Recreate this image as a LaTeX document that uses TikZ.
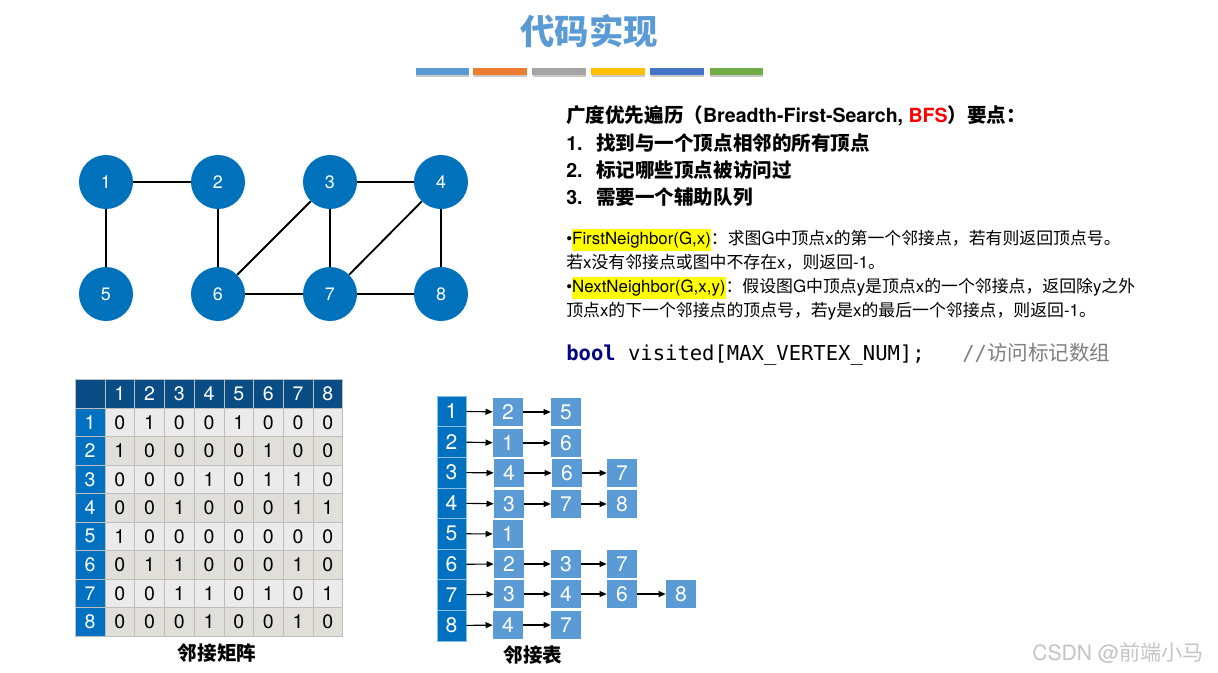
\documentclass[tikz,border=0pt]{standalone}
\usepackage{fontspec}
\setmainfont{TeX Gyre Heros}
\setmonofont{DejaVu Sans Mono}
\newfontfamily\cjk{Noto Sans CJK SC}
\usetikzlibrary{arrows.meta,shadows}
\newcommand{\zh}[1]{{\cjk #1}}
\newcommand{\hilite}[1]{{\setlength{\fboxsep}{0pt}\colorbox{hiyellow}{\strut #1}}}

\definecolor{titleblue}{HTML}{5B9BD5}
\definecolor{barA}{HTML}{5B9BD5}
\definecolor{barB}{HTML}{ED7D31}
\definecolor{barC}{HTML}{A5A5A5}
\definecolor{barD}{HTML}{FFC000}
\definecolor{barE}{HTML}{4472C4}
\definecolor{barF}{HTML}{70AD47}
\definecolor{nodeblue}{HTML}{0072BC}
\definecolor{headnavy}{HTML}{0A4D85}
\definecolor{headblue}{HTML}{0070C0}
\definecolor{boxblue}{HTML}{5B9BD5}
\definecolor{rowlight}{HTML}{EBEBEB}
\definecolor{rowdark}{HTML}{E0DFDA}
\definecolor{cellline}{HTML}{BEBEBE}
\definecolor{hiyellow}{HTML}{FFFF00}
\definecolor{bfsred}{HTML}{FF0000}
\definecolor{codenavy}{HTML}{000080}
\definecolor{commentgray}{HTML}{808080}
\definecolor{markgray}{HTML}{C4C4C4}

\tikzset{
  colorbar/.style={minimum width=1.325cm, minimum height=0.175cm, inner sep=0pt,
    drop shadow={shadow xshift=0.3pt, shadow yshift=-1.2pt, fill=black!35, opacity=0.6}},
  vertex/.style={circle, fill=nodeblue, text=white, minimum size=1.35cm, inner sep=0pt,
    font=\fontsize{12.8}{14}\selectfont},
  edge/.style={line width=1.3pt},
  head/.style={anchor=base west, inner sep=0pt, font=\bfseries\fontsize{13.9}{16}\selectfont},
  desc/.style={anchor=base west, inner sep=0pt, font=\fontsize{12}{15.5}\selectfont},
  code/.style={anchor=base west, inner sep=0pt, font=\ttfamily\fontsize{14.6}{17}\selectfont},
  cell/.style={minimum width=0.7425cm, minimum height=0.7125cm, inner sep=0pt,
    draw=cellline, line width=0.4pt, font=\fontsize{13.9}{16}\selectfont},
  oddrow/.style={cell, fill=rowlight},
  evenrow/.style={cell, fill=rowdark},
  topleft/.style={cell, fill=headnavy},
  colhead/.style={cell, fill=headnavy, text=white},
  rowhead/.style={cell, fill=headblue, text=white},
  listhead/.style={minimum width=0.725cm, minimum height=0.765cm, inner sep=0pt,
    fill=headblue, draw=white!55!headblue, line width=0.4pt, text=white,
    font=\fontsize{15}{17}\selectfont},
  listbox/.style={minimum width=0.75cm, minimum height=0.7cm, inner sep=0pt,
    fill=boxblue, text=white, font=\fontsize{15}{17}\selectfont},
  link/.style={-{Triangle[length=1.8mm,width=1.5mm]}, line width=0.8pt},
  caption/.style={anchor=base, inner sep=0pt, font=\cjk\bfseries\fontsize{13.9}{16}\selectfont}
}

\begin{document}
\begin{tikzpicture}[x={(0.025cm,0cm)},y={(0cm,-0.025cm)}]
\path[fill=white] (0,0) rectangle (1218,672);
\useasboundingbox (0,0) rectangle (1218,672);

% title and colour bars
\node[text=titleblue, font=\cjk\bfseries\fontsize{24.5}{28}\selectfont] (title) at (589,31) {代码实现};
\node[colorbar, fill=barA] (bar1) at (442.5,71.5) {};
\node[colorbar, fill=barB] (bar2) at (500,71.5) {};
\node[colorbar, fill=barC] (bar3) at (559,71.5) {};
\node[colorbar, fill=barD] (bar4) at (618,71.5) {};
\node[colorbar, fill=barE] (bar5) at (677,71.5) {};
\node[colorbar, fill=barF] (bar6) at (736.5,71.5) {};

% graph
\node[vertex] (v1) at (106,182) {1};
\node[vertex] (v2) at (218,182) {2};
\node[vertex] (v3) at (330,182) {3};
\node[vertex] (v4) at (441,182) {4};
\node[vertex] (v5) at (106,294) {5};
\node[vertex] (v6) at (218,294) {6};
\node[vertex] (v7) at (330,294) {7};
\node[vertex] (v8) at (441,294) {8};
\draw[edge] (v1) -- (v2);
\draw[edge] (v1) -- (v5);
\draw[edge] (v2) -- (v6);
\draw[edge] (v3) -- (v4);
\draw[edge] (v3) -- (v6);
\draw[edge] (v3) -- (v7);
\draw[edge] (v4) -- (v7);
\draw[edge] (v4) -- (v8);
\draw[edge] (v6) -- (v7);
\draw[edge] (v7) -- (v8);

% text on the right
\node[head] (bfs) at (566,122.4) {\zh{广度优先遍历（}Breadth-First-Search, {\color{bfsred}BFS}\zh{）要点：}};
\node[head] (pt1) at (566,150.4) {\makebox[21.3pt][l]{1.}\zh{找到与一个顶点相邻的所有顶点}};
\node[head] (pt2) at (566,177.4) {\makebox[21.3pt][l]{2.}\zh{标记哪些顶点被访问过}};
\node[head] (pt3) at (566,204.4) {\makebox[21.3pt][l]{3.}\zh{需要一个辅助队列}};

\node[desc] (fn1) at (566,244.5) {\textbullet\hilite{FirstNeighbor(G,x)}\zh{：求图}G\zh{中顶点}x\zh{的第一个邻接点，若有则返回顶点号。}};
\node[desc] (fn2) at (566,268.5) {\zh{若}x\zh{没有邻接点或图中不存在}x\zh{，则返回}-1\zh{。}};
\node[desc] (fn3) at (566,292.5) {\textbullet\hilite{NextNeighbor(G,x,y)}\zh{：假设图}G\zh{中顶点}y\zh{是顶点}x\zh{的一个邻接点，返回除}y\zh{之外}};
\node[desc] (fn4) at (566,316.5) {\zh{顶点}x\zh{的下一个邻接点的顶点号，若}y\zh{是}x\zh{的最后一个邻接点，则返回}-1\zh{。}};

\node[code] (decl) at (566,360) {{\color{codenavy}\bfseries bool} visited[MAX\_VERTEX\_NUM];};
\node[code, text=commentgray] (note) at (962,360) {//\zh{访问标记数组}};

% adjacency matrix
\begin{scope}[shift={(105,408)},x={(0cm,-0.7125cm)},y={(0.7425cm,0cm)}]
\node[topleft] (m-0-0) at (-0.5,-0.5) {};
\node[colhead] (m-0-1) at (-0.5,0.5) {1};
\node[colhead] (m-0-2) at (-0.5,1.5) {2};
\node[colhead] (m-0-3) at (-0.5,2.5) {3};
\node[colhead] (m-0-4) at (-0.5,3.5) {4};
\node[colhead] (m-0-5) at (-0.5,4.5) {5};
\node[colhead] (m-0-6) at (-0.5,5.5) {6};
\node[colhead] (m-0-7) at (-0.5,6.5) {7};
\node[colhead] (m-0-8) at (-0.5,7.5) {8};

\node[rowhead] (m-1-0) at (0.5,-0.5) {1};
\node[rowhead] (m-2-0) at (1.5,-0.5) {2};
\node[rowhead] (m-3-0) at (2.5,-0.5) {3};
\node[rowhead] (m-4-0) at (3.5,-0.5) {4};
\node[rowhead] (m-5-0) at (4.5,-0.5) {5};
\node[rowhead] (m-6-0) at (5.5,-0.5) {6};
\node[rowhead] (m-7-0) at (6.5,-0.5) {7};
\node[rowhead] (m-8-0) at (7.5,-0.5) {8};

\node[oddrow] (m-1-1) at (0.5,0.5) {0};
\node[oddrow] (m-1-2) at (0.5,1.5) {1};
\node[oddrow] (m-1-3) at (0.5,2.5) {0};
\node[oddrow] (m-1-4) at (0.5,3.5) {0};
\node[oddrow] (m-1-5) at (0.5,4.5) {1};
\node[oddrow] (m-1-6) at (0.5,5.5) {0};
\node[oddrow] (m-1-7) at (0.5,6.5) {0};
\node[oddrow] (m-1-8) at (0.5,7.5) {0};

\node[evenrow] (m-2-1) at (1.5,0.5) {1};
\node[evenrow] (m-2-2) at (1.5,1.5) {0};
\node[evenrow] (m-2-3) at (1.5,2.5) {0};
\node[evenrow] (m-2-4) at (1.5,3.5) {0};
\node[evenrow] (m-2-5) at (1.5,4.5) {0};
\node[evenrow] (m-2-6) at (1.5,5.5) {1};
\node[evenrow] (m-2-7) at (1.5,6.5) {0};
\node[evenrow] (m-2-8) at (1.5,7.5) {0};

\node[oddrow] (m-3-1) at (2.5,0.5) {0};
\node[oddrow] (m-3-2) at (2.5,1.5) {0};
\node[oddrow] (m-3-3) at (2.5,2.5) {0};
\node[oddrow] (m-3-4) at (2.5,3.5) {1};
\node[oddrow] (m-3-5) at (2.5,4.5) {0};
\node[oddrow] (m-3-6) at (2.5,5.5) {1};
\node[oddrow] (m-3-7) at (2.5,6.5) {1};
\node[oddrow] (m-3-8) at (2.5,7.5) {0};

\node[evenrow] (m-4-1) at (3.5,0.5) {0};
\node[evenrow] (m-4-2) at (3.5,1.5) {0};
\node[evenrow] (m-4-3) at (3.5,2.5) {1};
\node[evenrow] (m-4-4) at (3.5,3.5) {0};
\node[evenrow] (m-4-5) at (3.5,4.5) {0};
\node[evenrow] (m-4-6) at (3.5,5.5) {0};
\node[evenrow] (m-4-7) at (3.5,6.5) {1};
\node[evenrow] (m-4-8) at (3.5,7.5) {1};

\node[oddrow] (m-5-1) at (4.5,0.5) {1};
\node[oddrow] (m-5-2) at (4.5,1.5) {0};
\node[oddrow] (m-5-3) at (4.5,2.5) {0};
\node[oddrow] (m-5-4) at (4.5,3.5) {0};
\node[oddrow] (m-5-5) at (4.5,4.5) {0};
\node[oddrow] (m-5-6) at (4.5,5.5) {0};
\node[oddrow] (m-5-7) at (4.5,6.5) {0};
\node[oddrow] (m-5-8) at (4.5,7.5) {0};

\node[evenrow] (m-6-1) at (5.5,0.5) {0};
\node[evenrow] (m-6-2) at (5.5,1.5) {1};
\node[evenrow] (m-6-3) at (5.5,2.5) {1};
\node[evenrow] (m-6-4) at (5.5,3.5) {0};
\node[evenrow] (m-6-5) at (5.5,4.5) {0};
\node[evenrow] (m-6-6) at (5.5,5.5) {0};
\node[evenrow] (m-6-7) at (5.5,6.5) {1};
\node[evenrow] (m-6-8) at (5.5,7.5) {0};

\node[oddrow] (m-7-1) at (6.5,0.5) {0};
\node[oddrow] (m-7-2) at (6.5,1.5) {0};
\node[oddrow] (m-7-3) at (6.5,2.5) {1};
\node[oddrow] (m-7-4) at (6.5,3.5) {1};
\node[oddrow] (m-7-5) at (6.5,4.5) {0};
\node[oddrow] (m-7-6) at (6.5,5.5) {1};
\node[oddrow] (m-7-7) at (6.5,6.5) {0};
\node[oddrow] (m-7-8) at (6.5,7.5) {1};

\node[evenrow] (m-8-1) at (7.5,0.5) {0};
\node[evenrow] (m-8-2) at (7.5,1.5) {0};
\node[evenrow] (m-8-3) at (7.5,2.5) {0};
\node[evenrow] (m-8-4) at (7.5,3.5) {1};
\node[evenrow] (m-8-5) at (7.5,4.5) {0};
\node[evenrow] (m-8-6) at (7.5,5.5) {0};
\node[evenrow] (m-8-7) at (7.5,6.5) {1};
\node[evenrow] (m-8-8) at (7.5,7.5) {0};
\end{scope}
\node[caption] (matcap) at (217,660) {邻接矩阵};

% adjacency list
\node[listhead] (h1) at (451.5,411.3) {1};
\node[listhead] (h2) at (451.5,441.9) {2};
\node[listhead] (h3) at (451.5,472.5) {3};
\node[listhead] (h4) at (451.5,503.1) {4};
\node[listhead] (h5) at (451.5,533.7) {5};
\node[listhead] (h6) at (451.5,564.3) {6};
\node[listhead] (h7) at (451.5,594.9) {7};
\node[listhead] (h8) at (451.5,625.5) {8};

\node[listbox] (l-1-1) at (508,412) {2};
\node[listbox] (l-1-2) at (566,412) {5};
\node[listbox] (l-2-1) at (508,443) {1};
\node[listbox] (l-2-2) at (566,443) {6};
\node[listbox] (l-3-1) at (509,473) {4};
\node[listbox] (l-3-2) at (567,473) {6};
\node[listbox] (l-3-3) at (622,473) {7};
\node[listbox] (l-4-1) at (509,504) {3};
\node[listbox] (l-4-2) at (566,504) {7};
\node[listbox] (l-4-3) at (622,504) {8};
\node[listbox] (l-5-1) at (508,534) {1};
\node[listbox] (l-6-1) at (509,564) {2};
\node[listbox] (l-6-2) at (566,564) {3};
\node[listbox] (l-6-3) at (622,564) {7};
\node[listbox] (l-7-1) at (509,594) {3};
\node[listbox] (l-7-2) at (566,594) {4};
\node[listbox] (l-7-3) at (622,594) {6};
\node[listbox] (l-7-4) at (681,594) {8};
\node[listbox] (l-8-1) at (508,625) {4};
\node[listbox] (l-8-2) at (566,625) {7};

\draw[link] (h1) -- (l-1-1);
\draw[link] (l-1-1) -- (l-1-2);
\draw[link] (h2) -- (l-2-1);
\draw[link] (l-2-1) -- (l-2-2);
\draw[link] (h3) -- (l-3-1);
\draw[link] (l-3-1) -- (l-3-2);
\draw[link] (l-3-2) -- (l-3-3);
\draw[link] (h4) -- (l-4-1);
\draw[link] (l-4-1) -- (l-4-2);
\draw[link] (l-4-2) -- (l-4-3);
\draw[link] (h5) -- (l-5-1);
\draw[link] (h6) -- (l-6-1);
\draw[link] (l-6-1) -- (l-6-2);
\draw[link] (l-6-2) -- (l-6-3);
\draw[link] (h7) -- (l-7-1);
\draw[link] (l-7-1) -- (l-7-2);
\draw[link] (l-7-2) -- (l-7-3);
\draw[link] (l-7-3) -- (l-7-4);
\draw[link] (h8) -- (l-8-1);
\draw[link] (l-8-1) -- (l-8-2);
\node[caption] (listcap) at (533,662) {邻接表};

% watermark
\node[anchor=base west, inner sep=0pt, text=markgray, font=\fontsize{15}{17}\selectfont] (mark) at (1032,660) {CSDN @\zh{前端小马}};
\end{tikzpicture}
\end{document}
